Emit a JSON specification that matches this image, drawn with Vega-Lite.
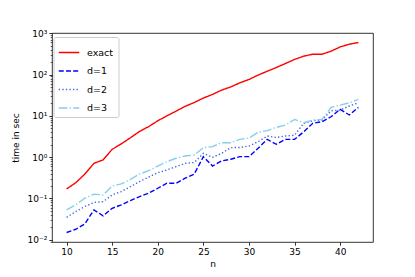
{
  "$schema": "https://vega.github.io/schema/vega-lite/v6.json",
  "autosize": {"type": "none"},
  "padding": {"left": 52, "top": 33, "right": 42, "bottom": 35},
  "width": 321,
  "height": 209,
  "background": "white",
  "config": {
    "view": {"stroke": "black", "strokeWidth": 0.8},
    "font": "DejaVu Sans",
    "axis": {
      "grid": false, "domain": false, "labelFont": "DejaVu Sans", "labelFontSize": 9, "labelColor": "black",
      "titleFont": "DejaVu Sans", "titleFontSize": 9, "titleFontWeight": "normal", "titleColor": "black",
      "tickColor": "black", "tickWidth": 0.8
    }
  },
  "data": {"values": [
    {"n":10,"method":"exact","t":0.17},{"n":11,"method":"exact","t":0.24},{"n":12,"method":"exact","t":0.39},{"n":13,"method":"exact","t":0.71},{"n":14,"method":"exact","t":0.86},{"n":15,"method":"exact","t":1.55},{"n":16,"method":"exact","t":2.1},{"n":17,"method":"exact","t":2.95},{"n":18,"method":"exact","t":4.2},{"n":19,"method":"exact","t":5.5},{"n":20,"method":"exact","t":7.6},{"n":21,"method":"exact","t":10},{"n":22,"method":"exact","t":13},{"n":23,"method":"exact","t":17},{"n":24,"method":"exact","t":21},{"n":25,"method":"exact","t":27},{"n":26,"method":"exact","t":33},{"n":27,"method":"exact","t":42},{"n":28,"method":"exact","t":50},{"n":29,"method":"exact","t":63},{"n":30,"method":"exact","t":76},{"n":31,"method":"exact","t":97},{"n":32,"method":"exact","t":120},{"n":33,"method":"exact","t":148},{"n":34,"method":"exact","t":185},{"n":35,"method":"exact","t":232},{"n":36,"method":"exact","t":278},{"n":37,"method":"exact","t":310},{"n":38,"method":"exact","t":310},{"n":39,"method":"exact","t":367},{"n":40,"method":"exact","t":466},{"n":41,"method":"exact","t":542},{"n":42,"method":"exact","t":595},
    {"n":10,"method":"d=1","t":0.015},{"n":11,"method":"d=1","t":0.018},{"n":12,"method":"d=1","t":0.0243},{"n":13,"method":"d=1","t":0.053},{"n":14,"method":"d=1","t":0.038},{"n":15,"method":"d=1","t":0.058},{"n":16,"method":"d=1","t":0.07},{"n":17,"method":"d=1","t":0.089},{"n":18,"method":"d=1","t":0.111},{"n":19,"method":"d=1","t":0.134},{"n":20,"method":"d=1","t":0.177},{"n":21,"method":"d=1","t":0.234},{"n":22,"method":"d=1","t":0.234},{"n":23,"method":"d=1","t":0.31},{"n":24,"method":"d=1","t":0.39},{"n":25,"method":"d=1","t":1.03},{"n":26,"method":"d=1","t":0.61},{"n":27,"method":"d=1","t":0.81},{"n":28,"method":"d=1","t":0.89},{"n":29,"method":"d=1","t":1.03},{"n":30,"method":"d=1","t":1.03},{"n":31,"method":"d=1","t":1.64},{"n":32,"method":"d=1","t":2.7},{"n":33,"method":"d=1","t":2.05},{"n":34,"method":"d=1","t":2.7},{"n":35,"method":"d=1","t":2.7},{"n":36,"method":"d=1","t":4.1},{"n":37,"method":"d=1","t":6.6},{"n":38,"method":"d=1","t":7.2},{"n":39,"method":"d=1","t":9.5},{"n":40,"method":"d=1","t":14.4},{"n":41,"method":"d=1","t":10.5},{"n":42,"method":"d=1","t":16},
    {"n":10,"method":"d=2","t":0.035},{"n":11,"method":"d=2","t":0.048},{"n":12,"method":"d=2","t":0.064},{"n":13,"method":"d=2","t":0.08},{"n":14,"method":"d=2","t":0.084},{"n":15,"method":"d=2","t":0.122},{"n":16,"method":"d=2","t":0.147},{"n":17,"method":"d=2","t":0.194},{"n":18,"method":"d=2","t":0.257},{"n":19,"method":"d=2","t":0.33},{"n":20,"method":"d=2","t":0.42},{"n":21,"method":"d=2","t":0.49},{"n":22,"method":"d=2","t":0.59},{"n":23,"method":"d=2","t":0.71},{"n":24,"method":"d=2","t":0.74},{"n":25,"method":"d=2","t":1.24},{"n":26,"method":"d=2","t":0.99},{"n":27,"method":"d=2","t":1.24},{"n":28,"method":"d=2","t":1.7},{"n":29,"method":"d=2","t":1.72},{"n":30,"method":"d=2","t":1.86},{"n":31,"method":"d=2","t":2.37},{"n":32,"method":"d=2","t":3.25},{"n":33,"method":"d=2","t":3.0},{"n":34,"method":"d=2","t":3.25},{"n":35,"method":"d=2","t":3.4},{"n":36,"method":"d=2","t":6.6},{"n":37,"method":"d=2","t":7.6},{"n":38,"method":"d=2","t":7.9},{"n":39,"method":"d=2","t":13.3},{"n":40,"method":"d=2","t":13.8},{"n":41,"method":"d=2","t":17.3},{"n":42,"method":"d=2","t":20.7},
    {"n":10,"method":"d=3","t":0.053},{"n":11,"method":"d=3","t":0.07},{"n":12,"method":"d=3","t":0.102},{"n":13,"method":"d=3","t":0.127},{"n":14,"method":"d=3","t":0.122},{"n":15,"method":"d=3","t":0.2},{"n":16,"method":"d=3","t":0.225},{"n":17,"method":"d=3","t":0.29},{"n":18,"method":"d=3","t":0.39},{"n":19,"method":"d=3","t":0.47},{"n":20,"method":"d=3","t":0.61},{"n":21,"method":"d=3","t":0.78},{"n":22,"method":"d=3","t":0.94},{"n":23,"method":"d=3","t":1.07},{"n":24,"method":"d=3","t":1.13},{"n":25,"method":"d=3","t":1.7},{"n":26,"method":"d=3","t":1.8},{"n":27,"method":"d=3","t":2.24},{"n":28,"method":"d=3","t":2.24},{"n":29,"method":"d=3","t":2.7},{"n":30,"method":"d=3","t":2.9},{"n":31,"method":"d=3","t":4.0},{"n":32,"method":"d=3","t":4.4},{"n":33,"method":"d=3","t":5.25},{"n":34,"method":"d=3","t":6.0},{"n":35,"method":"d=3","t":8.2},{"n":36,"method":"d=3","t":6.8},{"n":37,"method":"d=3","t":7.9},{"n":38,"method":"d=3","t":8.2},{"n":39,"method":"d=3","t":16},{"n":40,"method":"d=3","t":18.2},{"n":41,"method":"d=3","t":20.7},{"n":42,"method":"d=3","t":25}
  ]},
  "mark": {"type": "line", "strokeWidth": 1.4, "clip": true},
  "encoding": {
    "x": {
      "field": "n", "type": "quantitative", "title": "n",
      "scale": {"domain": [8.4, 43.6], "nice": false, "zero": false},
      "axis": {"values": [10, 15, 20, 25, 30, 35, 40], "tickSize": 3.2, "labelPadding": 2, "titlePadding": 3}
    },
    "y": {
      "field": "t", "type": "quantitative", "title": "time in sec",
      "scale": {"type": "log", "domain": [0.00885, 1012], "nice": false},
      "axis": {
        "values": [0.009,0.01,0.02,0.03,0.04,0.05,0.06,0.07,0.08,0.09,0.1,0.2,0.3,0.4,0.5,0.6,0.7,0.8,0.9,1,2,3,4,5,6,7,8,9,10,20,30,40,50,60,70,80,90,100,200,300,400,500,600,700,800,900,1000],
        "labelExpr": "abs(datum.value-1000)<0.5 ? '10³' : abs(datum.value-100)<0.05 ? '10²' : abs(datum.value-10)<0.005 ? '10¹' : abs(datum.value-1)<0.0005 ? '10⁰' : abs(datum.value-0.1)<0.00005 ? '10⁻¹' : abs(datum.value-0.01)<0.000005 ? '10⁻²' : ''",
        "tickSize": {"condition": {"test": "abs(log(datum.value)/LN10 - round(log(datum.value)/LN10)) < 0.001", "value": 3.2}, "value": 1.8},
        "tickWidth": {"condition": {"test": "abs(log(datum.value)/LN10 - round(log(datum.value)/LN10)) < 0.001", "value": 0.8}, "value": 0.6},
        "labelPadding": 2, "titlePadding": 6, "labelOverlap": false, "labelBound": false, "labelFlush": false
      }
    },
    "color": {
      "field": "method", "type": "nominal",
      "scale": {"domain": ["exact", "d=1", "d=2", "d=3"], "range": ["#ff0000", "#0000ff", "#4169e1", "#87ceeb"]},
      "legend": {
        "title": null, "orient": "none", "legendX": 1.5, "legendY": 4, "symbolType": "stroke", "symbolSize": 420, "symbolStrokeWidth": 1.4,
        "labelFont": "DejaVu Sans", "labelFontSize": 9.5, "labelColor": "black", "labelOffset": 7, "rowPadding": 2.5,
        "padding": 4.5, "strokeColor": "#cccccc", "fillColor": "white", "cornerRadius": 2
      }
    },
    "strokeDash": {
      "field": "method", "type": "nominal",
      "scale": {"domain": ["exact", "d=1", "d=2", "d=3"], "range": [[1, 0], [5, 2.2], [1.35, 2.2], [8.7, 2.2, 1.35, 2.2]]},
      "legend": null
    }
  }
}
